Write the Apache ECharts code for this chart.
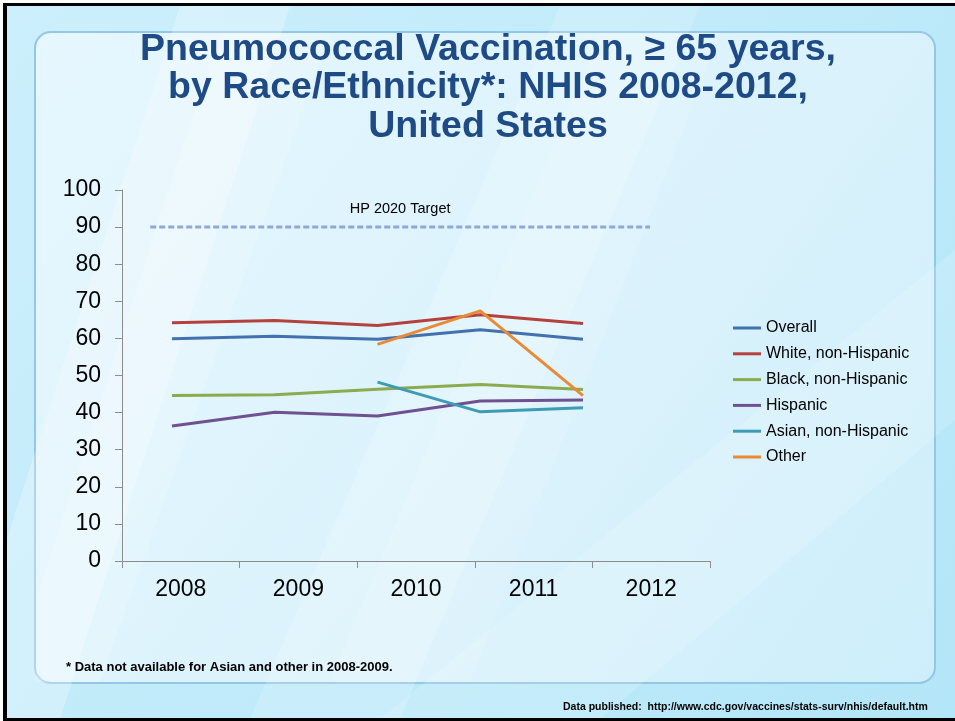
<!DOCTYPE html>
<html>
<head>
<meta charset="utf-8">
<script src="https://cdn.jsdelivr.net/npm/echarts@6/dist/echarts.min.js"></script>
<style>
html,body{margin:0;padding:0;background:#fff;}
#chart{width:955px;height:721px;}
</style>
</head>
<body>
<div id="chart"></div>
<script>
// ---- data ----
var categories = ['2008', '2009', '2010', '2011', '2012'];
var overall  = [59.9, 60.6, 59.8, 62.3, 59.8];
var white    = [64.2, 64.8, 63.5, 66.4, 64.0];
var blackNH  = [44.6, 44.8, 46.3, 47.6, 46.2];
var hispanic = [36.4, 40.1, 39.1, 43.1, 43.4];
var asian    = [null, null, 48.2, 40.2, 41.3];
var other    = [null, null, 58.4, 67.4, 44.6];
var seriesNames = ['Overall', 'White, non-Hispanic', 'Black, non-Hispanic', 'Hispanic', 'Asian, non-Hispanic', 'Other'];
var targetValue = 90;
var targetLabel = 'HP 2020 Target';
var targetSpan = [0.24, 4.49]; // in category-band units along the x axis
var yTicks = [0, 10, 20, 30, 40, 50, 60, 70, 80, 90, 100];

var colors = ['#4271AE', '#B4413E', '#8AAB4E', '#6F5192', '#3E9BB4', '#E98A36'];
var values = [overall, white, blackNH, hispanic, asian, other];
var FONT = 'Liberation Sans, Arial, sans-serif';

var chart = echarts.init(document.getElementById('chart'), null, {renderer: 'canvas'});

var lineSeries = seriesNames.map(function (n, i) {
  return {
    name: n, type: 'line', xAxisIndex: 1, yAxisIndex: 1,
    data: values[i], symbol: 'none', connectNulls: false,
    lineStyle: {width: 3, color: colors[i]}, itemStyle: {color: colors[i]},
    z: 5 + i
  };
});

var targetMid = (targetSpan[0] + targetSpan[1]) / 2;
var targetSeries = {
  name: 'target', type: 'line', xAxisIndex: 2, yAxisIndex: 0,
  symbol: 'circle', symbolSize: 0, showSymbol: true, silent: true,
  itemStyle: {color: 'rgba(0,0,0,0)'},
  lineStyle: {width: 3, color: '#8FA8D6', type: [6, 3]},
  data: [
    [targetSpan[0], targetValue],
    {value: [targetMid, targetValue], label: {show: true, position: 'top', distance: 11, formatter: targetLabel, color: '#000', fontSize: 14.5, fontFamily: FONT}},
    [targetSpan[1], targetValue]
  ],
  z: 3
};

function streak(points, op) {
  return {type: 'polygon', shape: {points: points}, style: {fill: 'rgba(255,255,255,' + op + ')'}, silent: true};
}

var option = {
  animation: false,
  backgroundColor: {
    type: 'linear', x: 0, y: 0, x2: 1, y2: 1,
    colorStops: [{offset: 0, color: '#cdeffc'}, {offset: 1, color: '#b3e6f8'}]
  },
  graphic: [
    streak([[180, 6], [290, 6], [60, 719], [0, 719], [0, 560]], 0.25),
    streak([[560, 6], [700, 6], [400, 719], [250, 719]], 0.18),
    streak([[955, 250], [955, 420], [600, 719], [380, 719]], 0.15),
    {
      type: 'rect', shape: {x: 35, y: 32, width: 900, height: 651, r: 16},
      style: {
        fill: {type: 'linear', x: 0, y: 0, x2: 1, y2: 1,
          colorStops: [{offset: 0, color: '#e6f7fe'}, {offset: 0.6, color: '#daf2fc'}, {offset: 1, color: '#cdeefb'}]},
        stroke: '#94c6e6', lineWidth: 2
      }, silent: true, z: -10
    },
    {type: 'polygon', shape: {points: [[220, 33], [330, 33], [100, 682], [36, 682], [36, 600]]}, style: {fill: 'rgba(255,255,255,0.18)'}, silent: true, z: -9},
    {type: 'polygon', shape: {points: [[600, 33], [720, 33], [470, 682], [330, 682]]}, style: {fill: 'rgba(255,255,255,0.12)'}, silent: true, z: -9},
    {type: 'rect', shape: {x: 0, y: 0, width: 955, height: 3}, style: {fill: '#fff'}, silent: true},
    {type: 'rect', shape: {x: 0, y: 0, width: 3, height: 721}, style: {fill: '#fff'}, silent: true},
    {type: 'rect', shape: {x: 3, y: 3, width: 952, height: 3}, style: {fill: '#000'}, silent: true},
    {type: 'rect', shape: {x: 3, y: 3, width: 4, height: 718}, style: {fill: '#000'}, silent: true},
    {type: 'rect', shape: {x: 3, y: 718, width: 952, height: 3}, style: {fill: '#000'}, silent: true}
  ],
  title: [
    {
      text: 'Pneumococcal Vaccination, \u2265 65 years,\nby Race/Ethnicity*: NHIS 2008-2012,\nUnited States',
      left: 483, top: 25, textAlign: 'center',
      textStyle: {fontFamily: FONT, fontWeight: 'bold', fontSize: 37.5, lineHeight: 38.5, color: '#1E4A85'}
    },
    {
      text: '* Data not available for Asian and other in 2008-2009.',
      left: 61, top: 656,
      textStyle: {fontFamily: FONT, fontWeight: 'bold', fontSize: 13, color: '#000'}
    },
    {
      text: 'Data published:  http://www.cdc.gov/vaccines/stats-surv/nhis/default.htm',
      left: 558, top: 697,
      textStyle: {fontFamily: FONT, fontWeight: 'bold', fontSize: 10.5, color: '#000'}
    }
  ],
  legend: {
    data: seriesNames.map(function (n) { return {name: n, icon: 'rect'}; }),
    orient: 'vertical', left: 728, top: 313,
    itemWidth: 28, itemHeight: 3, itemGap: 5.8,
    textStyle: {fontFamily: FONT, fontSize: 16, color: '#000', lineHeight: 20},
    selectedMode: false
  },
  grid: [
    {left: 122, top: 190, width: 588, height: 371, containLabel: false},
    {left: 172, top: 190, width: 411, height: 371, containLabel: false}
  ],
  xAxis: [
    {
      type: 'category', gridIndex: 0, data: categories, boundaryGap: true,
      axisLine: {lineStyle: {color: '#8c8c8c', width: 1}},
      axisTick: {show: true, length: 7, alignWithLabel: false, lineStyle: {color: '#8c8c8c'}},
      axisLabel: {margin: 17, fontSize: 23, color: '#000', fontFamily: FONT},
      splitLine: {show: false}
    },
    {type: 'category', gridIndex: 1, data: categories, boundaryGap: false, show: false},
    {type: 'value', gridIndex: 0, min: 0, max: categories.length, show: false}
  ],
  yAxis: [
    {
      type: 'value', gridIndex: 0, min: 0, max: 100, interval: 10,
      axisLine: {show: true, lineStyle: {color: '#8c8c8c', width: 1}},
      axisTick: {show: true, length: 7, lineStyle: {color: '#8c8c8c'}},
      axisLabel: {margin: 21, fontSize: 23, color: '#000', fontFamily: FONT,
        formatter: function (v) { return yTicks.indexOf(v) >= 0 ? String(v) : ''; }},
      splitLine: {show: false}
    },
    {type: 'value', gridIndex: 1, min: 0, max: 100, show: false}
  ],
  series: [targetSeries].concat(lineSeries)
};

chart.setOption(option);
</script>
</body>
</html>
